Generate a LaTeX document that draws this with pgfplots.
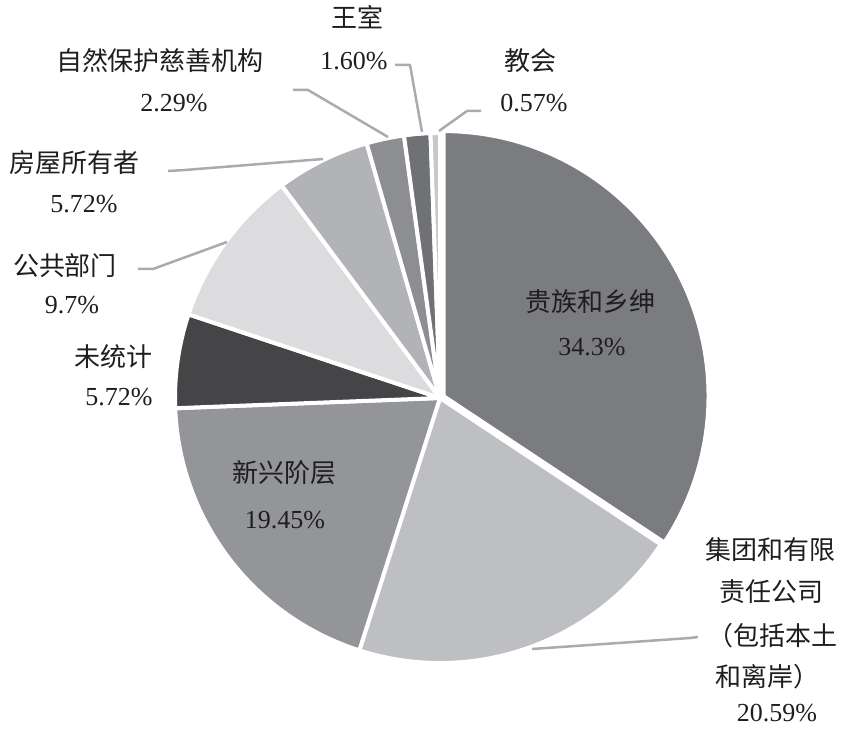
\documentclass[border=0pt]{standalone}
\usepackage{pgfplots}
\pgfplotsset{compat=1.18}
\usepackage{pgfplotstable}
\usepackage{fontspec}
\setmainfont{Liberation Serif}
\newfontfamily\cjk{Noto Sans CJK SC}

% slice colours, clockwise from the top
\definecolor{s0}{HTML}{7B7C80}
\definecolor{s1}{HTML}{BEBFC2}
\definecolor{s2}{HTML}{949598}
\definecolor{s3}{HTML}{454547}
\definecolor{s4}{HTML}{DCDCDE}
\definecolor{s5}{HTML}{B2B3B6}
\definecolor{s6}{HTML}{8D8E91}
\definecolor{s7}{HTML}{707174}
\definecolor{s8}{HTML}{C8C8CA}
\definecolor{leader}{HTML}{ABABAD}
\definecolor{txt}{HTML}{1E1E1E}

% share (%) and explode offset (pt)
\pgfplotstableread{
pct   explode
34.30 2
20.59 0
19.45 0
5.72  0
9.70  0
5.72  0
2.29  0
1.60  0
0.57  0
}\piedata

\begin{document}
\begin{tikzpicture}
% cumulative angles -> one macro with all wedges
\pgfplotstablegetrowsof{\piedata}
\pgfmathtruncatemacro\lastrow{\pgfplotsretval-1}
\gdef\pietotal{0}
\foreach \i in {0,...,\lastrow}{%
  \pgfplotstablegetelem{\i}{pct}\of\piedata
  \pgfmathsetmacro\runtot{\pietotal+\pgfplotsretval}%
  \xdef\pietotal{\runtot}%
}
\gdef\cumang{90}
\gdef\piepaths{}
\foreach \i in {0,...,\lastrow}{%
  \pgfplotstablegetelem{\i}{pct}\of\piedata
  \pgfmathsetmacro\endang{\cumang-360*\pgfplotsretval/\pietotal}%
  \pgfmathsetmacro\midang{(\cumang+\endang)/2}%
  \pgfplotstablegetelem{\i}{explode}\of\piedata
  \let\exoff\pgfplotsretval
  \xdef\piepaths{\unexpanded\expandafter{\piepaths}%
    \noexpand\filldraw[fill=s\i, draw=white, line width=2pt, line join=round]
      (axis cs:440,332) ++(\midang:\exoff pt) -- ++(\cumang:132.5pt)
      arc[start angle=\cumang, end angle=\endang, radius=132.5pt] -- cycle;}%
  \xdef\cumang{\endang}%
}
\begin{axis}[
    x=0.5pt, y=0.5pt,
    xmin=0, xmax=843, ymin=0, ymax=730,
    hide axis, clip=false,
]
\path (axis cs:0,0) rectangle (axis cs:843,730);
\piepaths

% leader lines
\begin{scope}[leader, line width=1.25pt, line join=round]
\draw (axis cs:439,599) -- (axis cs:467,619) -- (axis cs:481,619);
\draw (axis cs:395,665) -- (axis cs:410,665) -- (axis cs:422,598);
\draw (axis cs:293,640) -- (axis cs:308,640) -- (axis cs:388,593);
\draw (axis cs:168,559) -- (axis cs:185,560) -- (axis cs:323,571);
\draw (axis cs:138,461) -- (axis cs:153,461) -- (axis cs:227,488);
\draw (axis cs:532,81) -- (axis cs:690,92) -- (axis cs:698,93);
\end{scope}

% labels
\begin{scope}[every node/.style={text=txt, inner sep=0pt, font=\fontsize{13pt}{15pt}\selectfont}]
\node at (axis cs:357,713) {\cjk 王室};
\node at (axis cs:354,669) {1.60\%};
\node at (axis cs:160,669) {\cjk 自然保护慈善机构};
\node at (axis cs:174,627) {2.29\%};
\node at (axis cs:530,669) {\cjk 教会};
\node at (axis cs:534,627) {0.57\%};
\node at (axis cs:75,567) {\cjk 房屋所有者};
\node at (axis cs:84,526) {5.72\%};
\node at (axis cs:65,464) {\cjk 公共部门};
\node at (axis cs:72,425) {9.7\%};
\node at (axis cs:114,373) {\cjk 未统计};
\node at (axis cs:119,333) {5.72\%};
\node at (axis cs:285,257) {\cjk 新兴阶层};
\node at (axis cs:285,210) {19.45\%};
\node at (axis cs:590,428) {\cjk 贵族和乡绅};
\node at (axis cs:592,383) {34.3\%};
\node at (axis cs:770,180) {\cjk 集团和有限};
\node at (axis cs:771,138) {\cjk 责任公司};
\node at (axis cs:772,94) {\cjk （包括本土};
\node at (axis cs:767,53) {\cjk 和离岸）};
\node at (axis cs:777,17) {20.59\%};
\end{scope}
\end{axis}
\end{tikzpicture}
\end{document}
